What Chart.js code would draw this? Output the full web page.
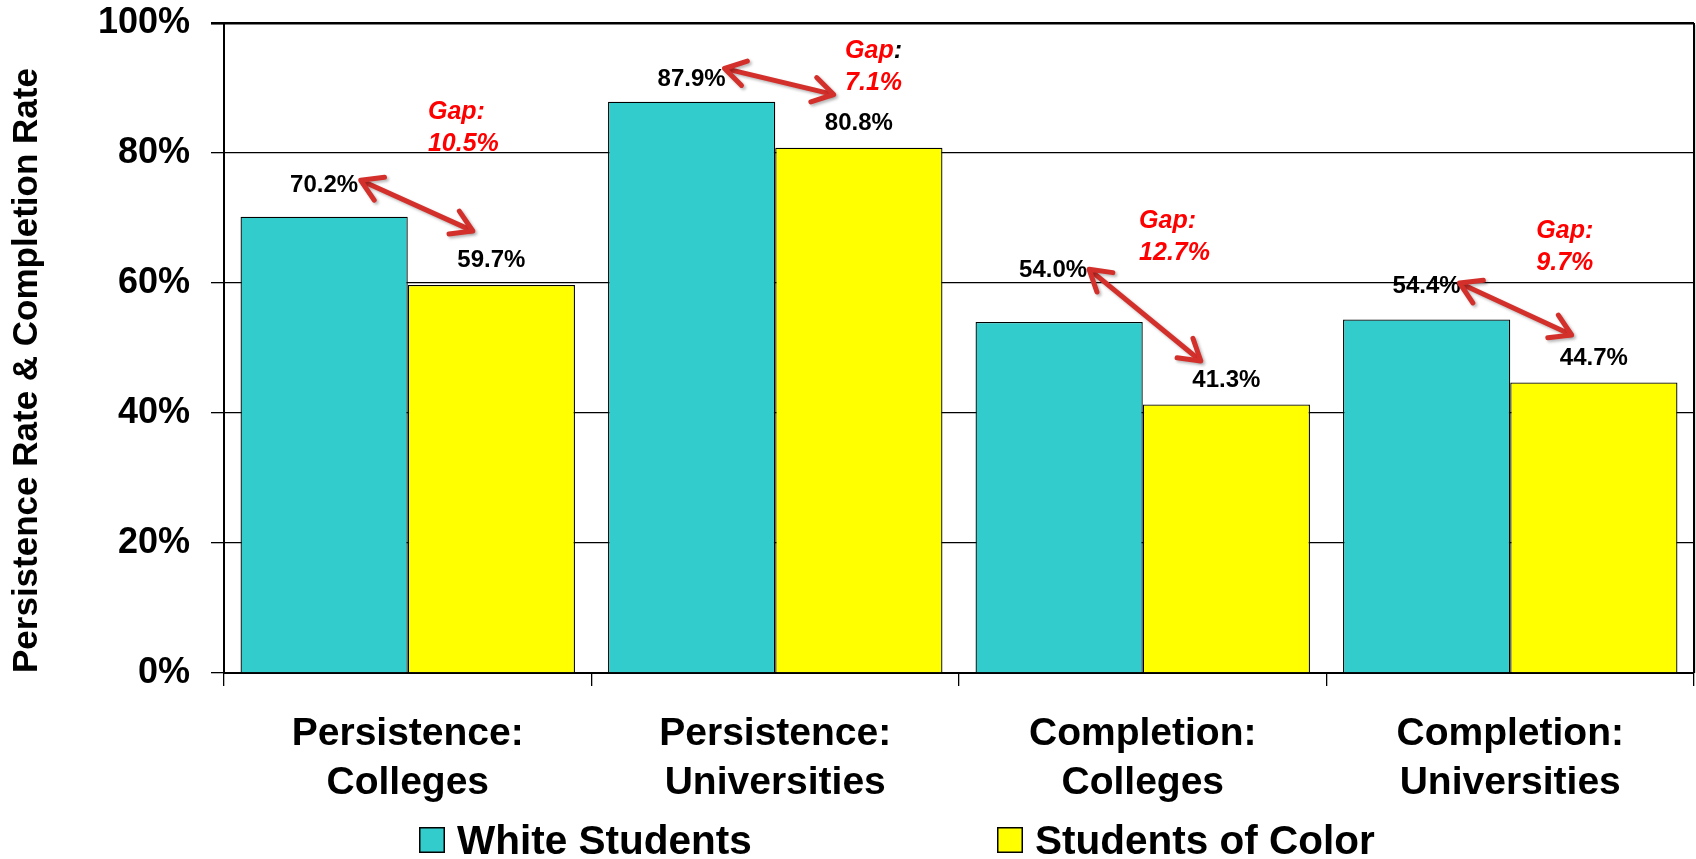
<!DOCTYPE html>
<html>
<head>
<meta charset="utf-8">
<script src="https://cdn.jsdelivr.net/npm/chart.js@4/dist/chart.umd.min.js"></script>
<style>
  html, body { margin: 0; padding: 0; background: #ffffff; }
  #wrap { width: 1696px; height: 859px; position: relative; }
</style>
</head>
<body>
<div id="wrap"><canvas id="chart" width="1696" height="859"></canvas></div>
<script>
// Categories (two-line axis labels)
const categories = [
  ['Persistence:', 'Colleges'],
  ['Persistence:', 'Universities'],
  ['Completion:', 'Colleges'],
  ['Completion:', 'Universities']
];
const seriesNames = ['White Students', 'Students of Color'];
const whiteStudents = [70.2, 87.9, 54.0, 54.4];
const studentsOfColor = [59.7, 80.8, 41.3, 44.7];
const yTickValues = [0, 20, 40, 60, 80, 100];
const yAxisTitle = 'Persistence Rate & Completion Rate';

const FONT = "'Liberation Sans', Arial, Helvetica, sans-serif";
const WHITE_FILL = '#33CCCC';
const COLOR_FILL = '#FFFF00';
const ARROW_RED = '#D3302B';

// Placement of the value labels (baseline lift above the bar top, in px, and x nudge)
const labelLift = [[25, 16, 45, 26], [18, 18, 18, 17.5]];
const labelNudge = [[0, 0, -6, 0], [0, 0, 0, 0]];

// Gap callouts: arrow ends and text anchor in axis units (x relative to the category centre)
const gapCallouts = [
  { a: [-0.128, 75.8], b: [0.177, 68.0], text: [0.055, 85.2], colon: 'red' },
  { a: [-0.138, 93.0], b: [0.159, 89.0], text: [0.190, 94.6], colon: 'black' },
  { a: [-0.146, 62.1], b: [0.158, 48.0], text: [-0.010, 68.4], colon: 'red' },
  { a: [-0.138, 60.0], b: [0.167, 52.0], text: [0.071, 67.0], colon: 'red' }
];

function drawArrowHead(ctx, tipX, tipY, fromX, fromY, len, spread) {
  const ang = Math.atan2(tipY - fromY, tipX - fromX);
  ctx.beginPath();
  ctx.moveTo(tipX - len * Math.cos(ang - spread), tipY - len * Math.sin(ang - spread));
  ctx.lineTo(tipX, tipY);
  ctx.lineTo(tipX - len * Math.cos(ang + spread), tipY - len * Math.sin(ang + spread));
  ctx.stroke();
}

const callouts = {
  id: 'callouts',
  afterDatasetsDraw(chart) {
    const ctx = chart.ctx;
    const xs = chart.scales.x, ys = chart.scales.y;
    const area = chart.chartArea;

    // right frame edge with a faint shadow
    ctx.save();
    ctx.strokeStyle = '#bbbbbb';
    ctx.lineWidth = 1;
    ctx.beginPath();
    ctx.moveTo(area.right + 2, area.top + 2);
    ctx.lineTo(area.right + 2, area.bottom);
    ctx.stroke();
    ctx.strokeStyle = '#000';
    ctx.lineWidth = 2;
    ctx.beginPath();
    ctx.moveTo(area.right, area.top);
    ctx.lineTo(area.right, area.bottom);
    ctx.stroke();
    ctx.restore();

    // value labels above the bars
    ctx.save();
    ctx.font = 'bold 24px ' + FONT;
    ctx.fillStyle = '#000';
    ctx.textAlign = 'center';
    ctx.textBaseline = 'alphabetic';
    chart.data.datasets.forEach((ds, di) => {
      const meta = chart.getDatasetMeta(di);
      meta.data.forEach((bar, i) => {
        const v = ds.data[i];
        ctx.fillText(v.toFixed(1) + '%', bar.x + labelNudge[di][i], bar.y - labelLift[di][i]);
      });
    });
    ctx.restore();

    // gap arrows and texts
    gapCallouts.forEach((g, i) => {
      const px = (dx) => xs.getPixelForValue(i + dx);
      const x1 = px(g.a[0]), y1 = ys.getPixelForValue(g.a[1]);
      const x2 = px(g.b[0]), y2 = ys.getPixelForValue(g.b[1]);
      ctx.save();
      ctx.strokeStyle = ARROW_RED;
      ctx.lineWidth = 5;
      ctx.lineCap = 'round';
      ctx.lineJoin = 'round';
      ctx.shadowColor = 'rgba(0,0,0,0.28)';
      ctx.shadowBlur = 3;
      ctx.shadowOffsetX = 2;
      ctx.shadowOffsetY = 2;
      const ang = Math.atan2(y2 - y1, x2 - x1);
      ctx.beginPath();
      ctx.moveTo(x1 + 4 * Math.cos(ang), y1 + 4 * Math.sin(ang));
      ctx.lineTo(x2 - 4 * Math.cos(ang), y2 - 4 * Math.sin(ang));
      ctx.stroke();
      drawArrowHead(ctx, x1, y1, x2, y2, 24, 0.55);
      drawArrowHead(ctx, x2, y2, x1, y1, 24, 0.55);
      ctx.restore();

      const gap = (whiteStudents[i] - studentsOfColor[i]).toFixed(1) + '%';
      const tx = px(g.text[0]), ty = ys.getPixelForValue(g.text[1]);
      ctx.save();
      ctx.font = 'italic bold 25px ' + FONT;
      ctx.textAlign = 'left';
      ctx.textBaseline = 'alphabetic';
      ctx.fillStyle = '#FF0000';
      ctx.fillText('Gap', tx, ty);
      const w = ctx.measureText('Gap').width;
      ctx.fillStyle = g.colon === 'black' ? '#000' : '#FF0000';
      ctx.fillText(':', tx + w, ty);
      ctx.fillStyle = '#FF0000';
      ctx.fillText(gap, tx, ty + 32);
      ctx.restore();
    });
  },
  afterDraw(chart) {
    // legend row
    const ctx = chart.ctx;
    const fills = [WHITE_FILL, COLOR_FILL];
    const boxX = [419, 997];
    const boxY = 827, box = 26;
    ctx.save();
    ctx.font = 'bold 40.5px ' + FONT;
    ctx.textBaseline = 'alphabetic';
    ctx.textAlign = 'left';
    seriesNames.forEach((name, i) => {
      ctx.fillStyle = fills[i];
      ctx.fillRect(boxX[i], boxY, box, box);
      ctx.strokeStyle = '#000';
      ctx.lineWidth = 1.5;
      ctx.strokeRect(boxX[i] + 0.75, boxY + 0.75, box - 1.5, box - 1.5);
      ctx.fillStyle = '#000';
      ctx.fillText(name, boxX[i] + box + 12, boxY + box + 1);
    });
    ctx.restore();
  }
};

const chart = new Chart(document.getElementById('chart'), {
  type: 'bar',
  data: {
    labels: categories,
    datasets: [
      {
        label: seriesNames[0],
        data: whiteStudents,
        backgroundColor: WHITE_FILL,
        borderColor: '#000',
        borderWidth: 1.3,
        barPercentage: 1,
        categoryPercentage: 0.91
      },
      {
        label: seriesNames[1],
        data: studentsOfColor,
        backgroundColor: COLOR_FILL,
        borderColor: '#000',
        borderWidth: 1.3,
        barPercentage: 1,
        categoryPercentage: 0.91
      }
    ]
  },
  options: {
    responsive: false,
    animation: false,
    devicePixelRatio: 1,
    layout: { padding: { top: 23, right: 2, bottom: 56, left: 0 } },
    plugins: {
      legend: { display: false },
      tooltip: { enabled: false }
    },
    scales: {
      x: {
        grid: {
          offset: true,
          drawOnChartArea: false,
          drawTicks: true,
          tickLength: 13,
          color: '#000',
          lineWidth: 1.3
        },
        border: { display: true, color: '#000', width: 2 },
        ticks: {
          color: '#000',
          font: { family: FONT, size: 39, weight: 'bold', lineHeight: 1.25 },
          padding: 24,
          maxRotation: 0,
          autoSkip: false
        },
        afterFit(scale) { scale.height = 130; }
      },
      y: {
        min: 0,
        max: 100,
        afterBuildTicks(scale) { scale.ticks = yTickValues.map(v => ({ value: v })); },
        ticks: {
          color: '#000',
          font: { family: FONT, size: 36, weight: 'bold' },
          padding: 21,
          callback: (v) => v + '%'
        },
        grid: {
          color: '#000',
          lineWidth: (c) => (c.tick && c.tick.value === 100 ? 2.6 : 1.3),
          tickLength: 13
        },
        border: { display: true, color: '#000', width: 2 },
        title: {
          display: true,
          text: yAxisTitle,
          align: 'start',
          color: '#000',
          font: { family: FONT, size: 35, weight: 'bold' },
          padding: { top: 6, bottom: 0 }
        },
        afterFit(scale) {
          scale.width = 224;
          scale.paddingTop = 0;
          scale.paddingBottom = 0;
        }
      }
    }
  },
  plugins: [callouts]
});
</script>
</body>
</html>
